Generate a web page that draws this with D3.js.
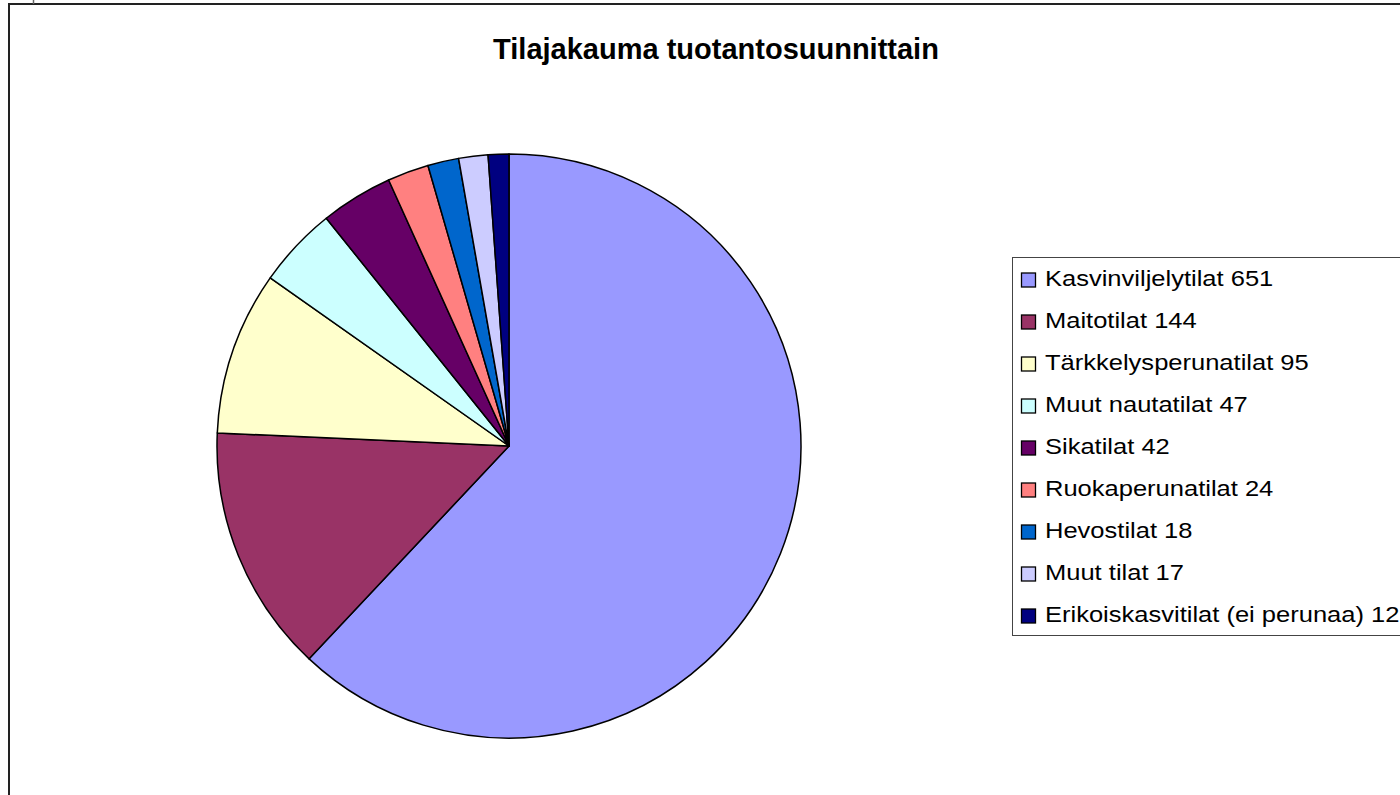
<!DOCTYPE html>
<html>
<head>
<meta charset="utf-8">
<script src="https://cdn.jsdelivr.net/npm/d3@7"></script>
<style>
  body { margin: 0; background: #fff; }
  svg { display: block; font-family: "Liberation Sans", Arial, sans-serif; }
</style>
</head>
<body>
<svg id="chart" width="1400" height="795"></svg>
<script>
// chart data
var categories = [
  "Kasvinviljelytilat", "Maitotilat", "Tärkkelysperunatilat", "Muut nautatilat",
  "Sikatilat", "Ruokaperunatilat", "Hevostilat", "Muut tilat",
  "Erikoiskasvitilat (ei perunaa)"
];
var counts = [651, 144, 95, 47, 42, 24, 18, 17, 12];
var colors = [
  "#9999FF", "#993366", "#FFFFCC", "#CCFFFF", "#660066",
  "#FF8080", "#0066CC", "#CCCCFF", "#000080"
];
var title = "Tilajakauma tuotantosuunnittain";

var svg = d3.select("#chart");

// outer frame, runs off the right and bottom edge
svg.append("rect").attr("x", 9).attr("y", 4)
  .attr("width", 1420).attr("height", 820)
  .attr("fill", "#fff").attr("stroke", "#222").attr("stroke-width", 2);
svg.append("line").attr("x1", 33.5).attr("x2", 33.5).attr("y1", 0).attr("y2", 4)
  .attr("stroke", "#666").attr("stroke-width", 1.5);

svg.append("text").attr("x", 716).attr("y", 59)
  .attr("text-anchor", "middle").attr("font-weight", "bold")
  .attr("font-size", 29).text(title);

// pie
var data = categories.map(function(c, i) { return { name: c, value: counts[i], color: colors[i] }; });
var pie = d3.pie().sort(null).value(function(d) { return d.value; });
var arc = d3.arc().innerRadius(0).outerRadius(292);

var g = svg.append("g").attr("transform", "translate(509,446)");
g.selectAll("path").data(pie(data)).enter().append("path")
  .attr("d", arc)
  .attr("fill", function(d) { return d.data.color; })
  .attr("stroke", "#000").attr("stroke-width", 1.5)
  .attr("stroke-linejoin", "round");

// legend
svg.append("rect").attr("x", 1012.5).attr("y", 257.5)
  .attr("width", 420).attr("height", 378)
  .attr("fill", "#fff").attr("stroke", "#444").attr("stroke-width", 1);

var y = d3.scaleBand().domain(categories).range([259, 637]);
var row = svg.selectAll("g.leg").data(data).enter().append("g")
  .attr("class", "leg")
  .attr("transform", function(d) { return "translate(1021," + (y(d.name) + y.bandwidth() / 2) + ")"; });
row.append("rect").attr("x", 0.5).attr("y", -7).attr("width", 14).attr("height", 14)
  .attr("fill", function(d) { return d.color; })
  .attr("stroke", "#000").attr("stroke-width", 1.3);
// the original text is a bit wider than Arial at this height
row.append("text").attr("transform", "translate(24,6) scale(1.16,1)")
  .attr("font-size", 22)
  .text(function(d) { return d.name + " " + d.value; });
</script>
</body>
</html>
